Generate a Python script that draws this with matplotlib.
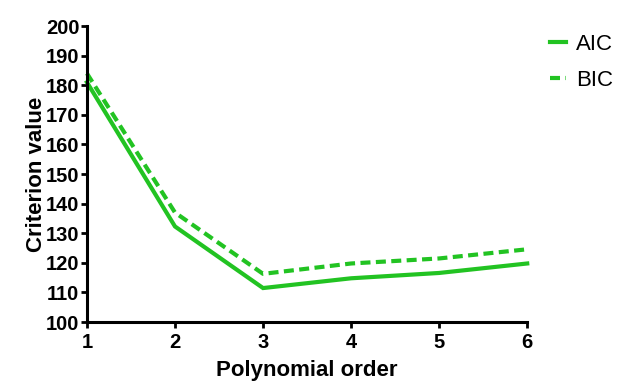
import matplotlib
matplotlib.use("Agg")
import matplotlib.pyplot as plt

orders = [1, 2, 3, 4, 5, 6]
aic = [181, 132.3, 111.5, 114.8, 116.6, 119.8]
bic = [184, 137, 116.3, 119.8, 121.5, 124.6]
yticks = list(range(100, 201, 10))

plt.rcParams['font.family'] = ['Liberation Sans', 'DejaVu Sans']

fig = plt.figure(figsize=(6.21, 3.83), dpi=100)
ax = fig.add_axes([0.14, 0.159, 0.709, 0.773])
green = '#22c322'
ax.plot(orders, aic, color=green, lw=3, label='AIC', clip_on=False, solid_joinstyle='miter')
ax.plot(orders, bic, color=green, lw=3, ls=(0, (2.4, 1.3)), label='BIC', clip_on=False)

ax.set_xlim(1, 6)
ax.set_ylim(100, 200)
ax.set_xticks(orders)
ax.set_yticks(yticks)
for s in ['top', 'right']:
    ax.spines[s].set_visible(False)
for s in ['left', 'bottom']:
    ax.spines[s].set_linewidth(2.2)
ax.tick_params(width=2, length=4, labelsize=14.5, pad=1.5)
ax.tick_params(axis='x', pad=3.5)
for lab in ax.get_xticklabels() + ax.get_yticklabels():
    lab.set_fontweight('bold')
ax.set_xlabel('Polynomial order', fontsize=16, fontweight='bold', labelpad=6)
ax.set_ylabel('Criterion value', fontsize=16, fontweight='bold', labelpad=-1)

leg = ax.legend(loc='upper left', bbox_to_anchor=(1.007, 1.04), frameon=False,
                handlelength=0.7, handletextpad=0.45, labelspacing=0.65, fontsize=16)

fig.savefig('out.png', dpi=100)
